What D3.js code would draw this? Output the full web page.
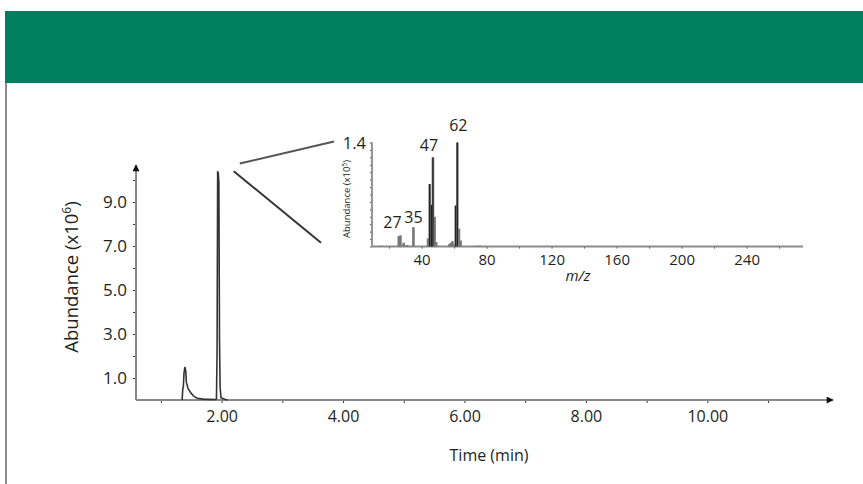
<!DOCTYPE html>
<html>
<head>
<meta charset="utf-8">
<script src="https://cdn.jsdelivr.net/npm/d3@7"></script>
<style>
  html, body { margin: 0; padding: 0; background: #fff; }
  svg { display: block; }
  text { font-family: "Open Sans", "Noto Sans", sans-serif; fill: #231f20; }
</style>
</head>
<body>
<svg id="chart" width="863" height="484"></svg>
<script>
// ---- Data: total ion chromatogram (time in min, abundance x10^6) ----
const chromTime = [1.35, 1.36, 1.37, 1.38, 1.395, 1.41, 1.42, 1.45, 1.50, 1.55, 1.60, 1.70, 1.80,
                   1.90, 1.915, 1.925, 1.935, 1.945, 1.955, 1.965, 1.975, 1.99, 2.05, 2.10];
const chromAbund = [0.00, 0.50, 0.60, 1.20, 1.50, 1.30, 0.80, 0.50, 0.30, 0.15, 0.08, 0.04, 0.03,
                    0.02, 0.05, 2.10, 10.40, 10.30, 9.90, 2.80, 0.60, 0.10, 0.03, 0.00];

// ---- Data: mass spectrum inset (m/z, abundance x10^5) ----
const specMz    = [15, 26, 27, 29, 31, 35, 44, 45, 46, 47, 48, 49, 57, 58, 59, 60, 61, 62, 63, 64, 74, 76];
const specAbund = [0.01, 0.14, 0.15, 0.05, 0.02, 0.26, 0.11, 0.84, 0.56, 1.20, 0.40, 0.06,
                   0.03, 0.05, 0.07, 0.03, 0.55, 1.40, 0.24, 0.08, 0.01, 0.01];
const peakLabels = [27, 35, 47, 62];

// ---- Tick values ----
const timeTicks = [1, 2, 3, 4, 5, 6, 7, 8, 9, 10, 11];
const timeLabels = [2, 4, 6, 8, 10];
const abundTicks = [1, 2, 3, 4, 5, 6, 7, 8, 9, 10];
const abundLabels = [1, 3, 5, 7, 9];
const mzTicks = [20, 40, 60, 80, 100, 120, 140, 160, 180, 200, 220, 240, 260];
const mzLabels = [40, 80, 120, 160, 200, 240];

const svg = d3.select("#chart");
const AX = "#8a8a8a";
const FONT = "'Open Sans', sans-serif";

// Header banner and left frame line
svg.append("rect").attr("x", 5).attr("y", 11).attr("width", 858).attr("height", 72).attr("fill", "#007f5f");
svg.append("line").attr("x1", 6).attr("x2", 6).attr("y1", 83).attr("y2", 484)
   .attr("stroke", "#666").attr("stroke-width", 1.5);

// Arrow marker
const defs = svg.append("defs");
defs.append("marker").attr("id", "arrow").attr("viewBox", "0 0 10 10")
  .attr("refX", 9).attr("refY", 5).attr("markerWidth", 9).attr("markerHeight", 7)
  .attr("markerUnits", "userSpaceOnUse").attr("orient", "auto")
  .append("path").attr("d", "M0,0 L10,5 L0,10 z").attr("fill", "#111");

// ---- Main chart scales ----
const x = d3.scaleLinear().domain([0.59, 12.07]).range([136, 833]);
const y = d3.scaleLinear().domain([0, 10.68]).range([400, 165]);

// X axis
const xAxis = svg.append("g").attr("transform", `translate(0,${y(0)})`)
  .call(d3.axisBottom(x).tickValues(timeTicks).tickSize(3).tickPadding(8)
        .tickFormat(d => timeLabels.includes(d) ? d3.format(".2f")(d) : ""));
xAxis.select(".domain").remove();
xAxis.selectAll(".tick line").attr("stroke", "#333").attr("stroke-width", 1);
xAxis.selectAll(".tick text").attr("font-size", 16).style("fill", "#231f20").attr("font-family", FONT);
svg.append("line").attr("x1", x.range()[0]).attr("x2", x.range()[1])
  .attr("y1", y(0)).attr("y2", y(0)).attr("stroke", AX).attr("stroke-width", 2)
  .attr("marker-end", "url(#arrow)");

// Y axis
const yAxis = svg.append("g").attr("transform", `translate(${x.range()[0]},0)`)
  .call(d3.axisLeft(y).tickValues(abundTicks).tickSize(3).tickPadding(6)
        .tickFormat(d => abundLabels.includes(d) ? d3.format(".1f")(d) : ""));
yAxis.select(".domain").remove();
yAxis.selectAll(".tick line").attr("stroke", "#333").attr("stroke-width", 1);
yAxis.selectAll(".tick text").attr("font-size", 17).style("fill", "#231f20").attr("font-family", FONT);
svg.append("line").attr("x1", x.range()[0]).attr("x2", x.range()[0])
  .attr("y1", y(0)).attr("y2", y.range()[1]).attr("stroke", AX).attr("stroke-width", 2)
  .attr("marker-end", "url(#arrow)");

// Axis titles
svg.append("text").attr("x", 489).attr("y", 461).attr("text-anchor", "middle")
  .attr("font-size", 16).text("Time (min)");
const yt = svg.append("text").attr("transform", "translate(78,277) rotate(-90)")
  .attr("text-anchor", "middle").attr("font-size", 18.5);
yt.append("tspan").text("Abundance (x10");
yt.append("tspan").attr("dy", -7).attr("font-size", 12).text("6");
yt.append("tspan").attr("dy", 7).text(")");

// Chromatogram trace
const chrom = chromTime.map((t, i) => ({ t, a: chromAbund[i] }));
svg.append("path").datum(chrom)
  .attr("fill", "none").attr("stroke", "#333").attr("stroke-width", 1.6)
  .attr("d", d3.line().x(d => x(d.t)).y(d => y(d.a)));

// ---- Inset mass spectrum ----
const mx = d3.scaleLinear().domain([9.5, 274.7]).range([372, 803]);
const my = d3.scaleLinear().domain([0, 1.4]).range([246.5, 142.5]);

// Zoom connector lines
svg.append("line").attr("x1", x(2.30)).attr("y1", y(10.75)).attr("x2", mx.range()[0] - 38).attr("y2", my(1.4) - 1)
  .attr("stroke", "#555").attr("stroke-width", 2);
svg.append("line").attr("x1", x(2.20)).attr("y1", y(10.4)).attr("x2", mx.range()[0] - 51).attr("y2", my(0.05))
  .attr("stroke", "#333").attr("stroke-width", 2);

// Inset x axis
const mxAxis = svg.append("g").attr("transform", `translate(0,${my(0)})`)
  .call(d3.axisBottom(mx).tickValues(mzTicks).tickSize(2).tickPadding(6)
        .tickFormat(d => mzLabels.includes(d) ? d : ""));
mxAxis.select(".domain").remove();
mxAxis.selectAll(".tick line").attr("stroke", "#333");
mxAxis.selectAll(".tick text").attr("font-size", 15).style("fill", "#231f20").attr("font-family", FONT);
svg.append("line").attr("x1", mx.range()[0]).attr("x2", mx.range()[1])
  .attr("y1", my(0)).attr("y2", my(0)).attr("stroke", AX).attr("stroke-width", 1.8);

// Inset y axis
const myAxis = svg.append("g").attr("transform", `translate(${mx.range()[0]},0)`)
  .call(d3.axisLeft(my).tickValues(d3.range(0, 15).map(i => i / 10)).tickSize(2).tickFormat(""));
myAxis.select(".domain").remove();
myAxis.selectAll(".tick line").attr("stroke", "#555");
svg.append("line").attr("x1", mx.range()[0]).attr("x2", mx.range()[0])
  .attr("y1", my(0)).attr("y2", my(1.4)).attr("stroke", AX).attr("stroke-width", 1.8);
svg.append("text").attr("x", mx.range()[0] - 6).attr("y", my(1.4) + 6).attr("text-anchor", "end")
  .attr("font-size", 16.5).text("1.4");

// Inset titles
const iyt = svg.append("text").attr("transform", "translate(350,199) rotate(-90)")
  .attr("text-anchor", "middle").attr("font-size", 9.5);
iyt.append("tspan").text("Abundance (x10");
iyt.append("tspan").attr("dy", -3).attr("font-size", 6.5).text("5");
iyt.append("tspan").attr("dy", 3).text(")");
svg.append("text").attr("x", 578).attr("y", 281).attr("text-anchor", "middle")
  .attr("font-size", 15).attr("font-style", "italic").text("m/z");

// Spectrum bars
const spec = specMz.map((m, i) => ({ m, a: specAbund[i] }));
svg.append("g").selectAll("rect").data(spec).join("rect")
  .attr("x", d => mx(d.m) - 1.3).attr("width", 2.6)
  .attr("y", d => my(d.a)).attr("height", d => my(0) - my(d.a))
  .attr("fill", "#777");
svg.append("g").selectAll("line").data(spec.filter(d => d.a >= 0.5)).join("line")
  .attr("x1", d => mx(d.m)).attr("x2", d => mx(d.m))
  .attr("y1", d => my(d.a)).attr("y2", my(0))
  .attr("stroke", "#111").attr("stroke-width", 1);

// Peak labels
const labelDx = { 27: -8, 35: 0, 47: -4, 62: 1 };
const labelDy = { 27: 7, 35: 4, 47: 6, 62: 12 };
svg.append("g").selectAll("text").data(spec.filter(d => peakLabels.includes(d.m))).join("text")
  .attr("x", d => mx(d.m) + labelDx[d.m])
  .attr("y", d => my(d.a) - labelDy[d.m])
  .attr("text-anchor", "middle").attr("font-size", 16)
  .text(d => d.m);
</script>
</body>
</html>
